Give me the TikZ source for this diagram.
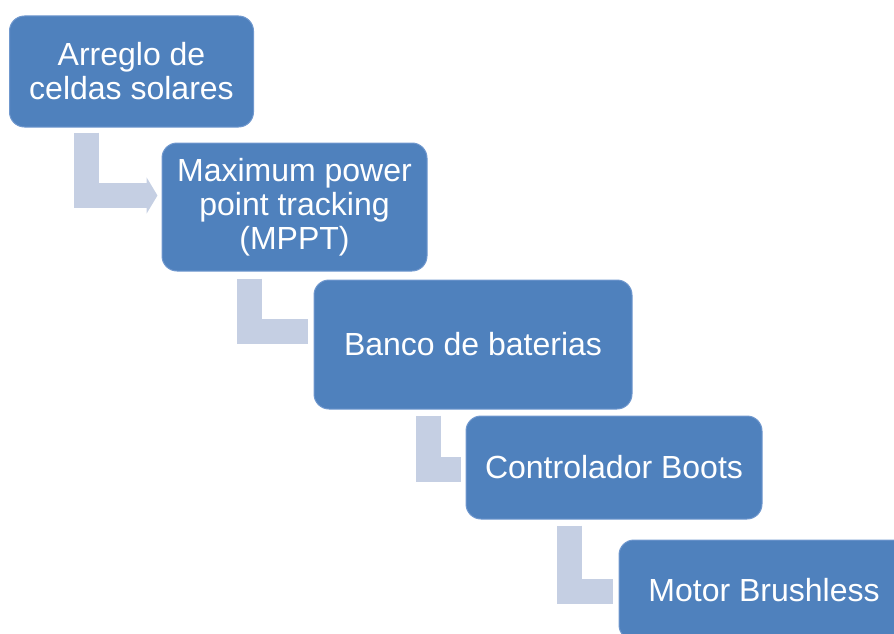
\documentclass[tikz,border=0pt]{standalone}
\usepackage{fontspec}
\setmainfont{Liberation Sans}
\usetikzlibrary{calc,arrows.meta}

\definecolor{cajaazul}{RGB}{79,129,189}
\definecolor{bordeazul}{RGB}{112,152,206}
\definecolor{flechagris}{RGB}{197,207,227}

\tikzset{
  caja/.style={draw=bordeazul, line width=1pt, fill=cajaazul, rounded corners=15pt,
    text=white, align=center, font=\fontsize{32}{34}\selectfont, inner sep=0pt},
  flecha/.style={draw=flechagris, line width=25pt, line cap=butt, line join=miter},
}

\begin{document}
\begin{tikzpicture}[x=1pt, y=-1pt]
  % page size and cut-off of the last box
  \useasboundingbox (0,0) rectangle (894,634);
  \clip (0,0) rectangle (894,634);

  % process steps, going down to the right
  \node[caja, minimum width=244pt, minimum height=111pt] (arreglo) at (131.5,71.5)
    {Arreglo de\\celdas solares};
  \node[caja, minimum width=265pt, minimum height=128pt] (mppt) at (294.5,207)
    {\raisebox{-4pt}{\shortstack{Maximum power\\[1pt]point tracking\\[1pt](MPPT)}}};
  \node[caja, minimum width=318pt, minimum height=129pt] (banco) at (473,344.5)
    {Banco de baterias};
  \node[caja, minimum width=296pt, minimum height=103pt] (control) at (614,467.5)
    {Controlador Boots};
  \node[caja, minimum width=290pt, minimum height=100pt] (motor) at (764,590)
    {Motor Brushless};

  % bent connectors between the steps
  \draw[flecha, -{Triangle[length=11pt, width=36pt]}]
    ($(arreglo.south west)+(77.5,5)$) |- ($(mppt.west)+(-4,-11.5)$);
  \draw[flecha] ($(mppt.south west)+(87.5,7)$) |- ($(banco.west)+(-6,-13)$);
  \draw[flecha] ($(banco.south west)+(114.5,6)$) |- ($(control.west)+(-5,1.5)$);
  \draw[flecha] ($(control.south west)+(103.5,6)$) |- ($(motor.west)+(-6,1.5)$);
\end{tikzpicture}
\end{document}
